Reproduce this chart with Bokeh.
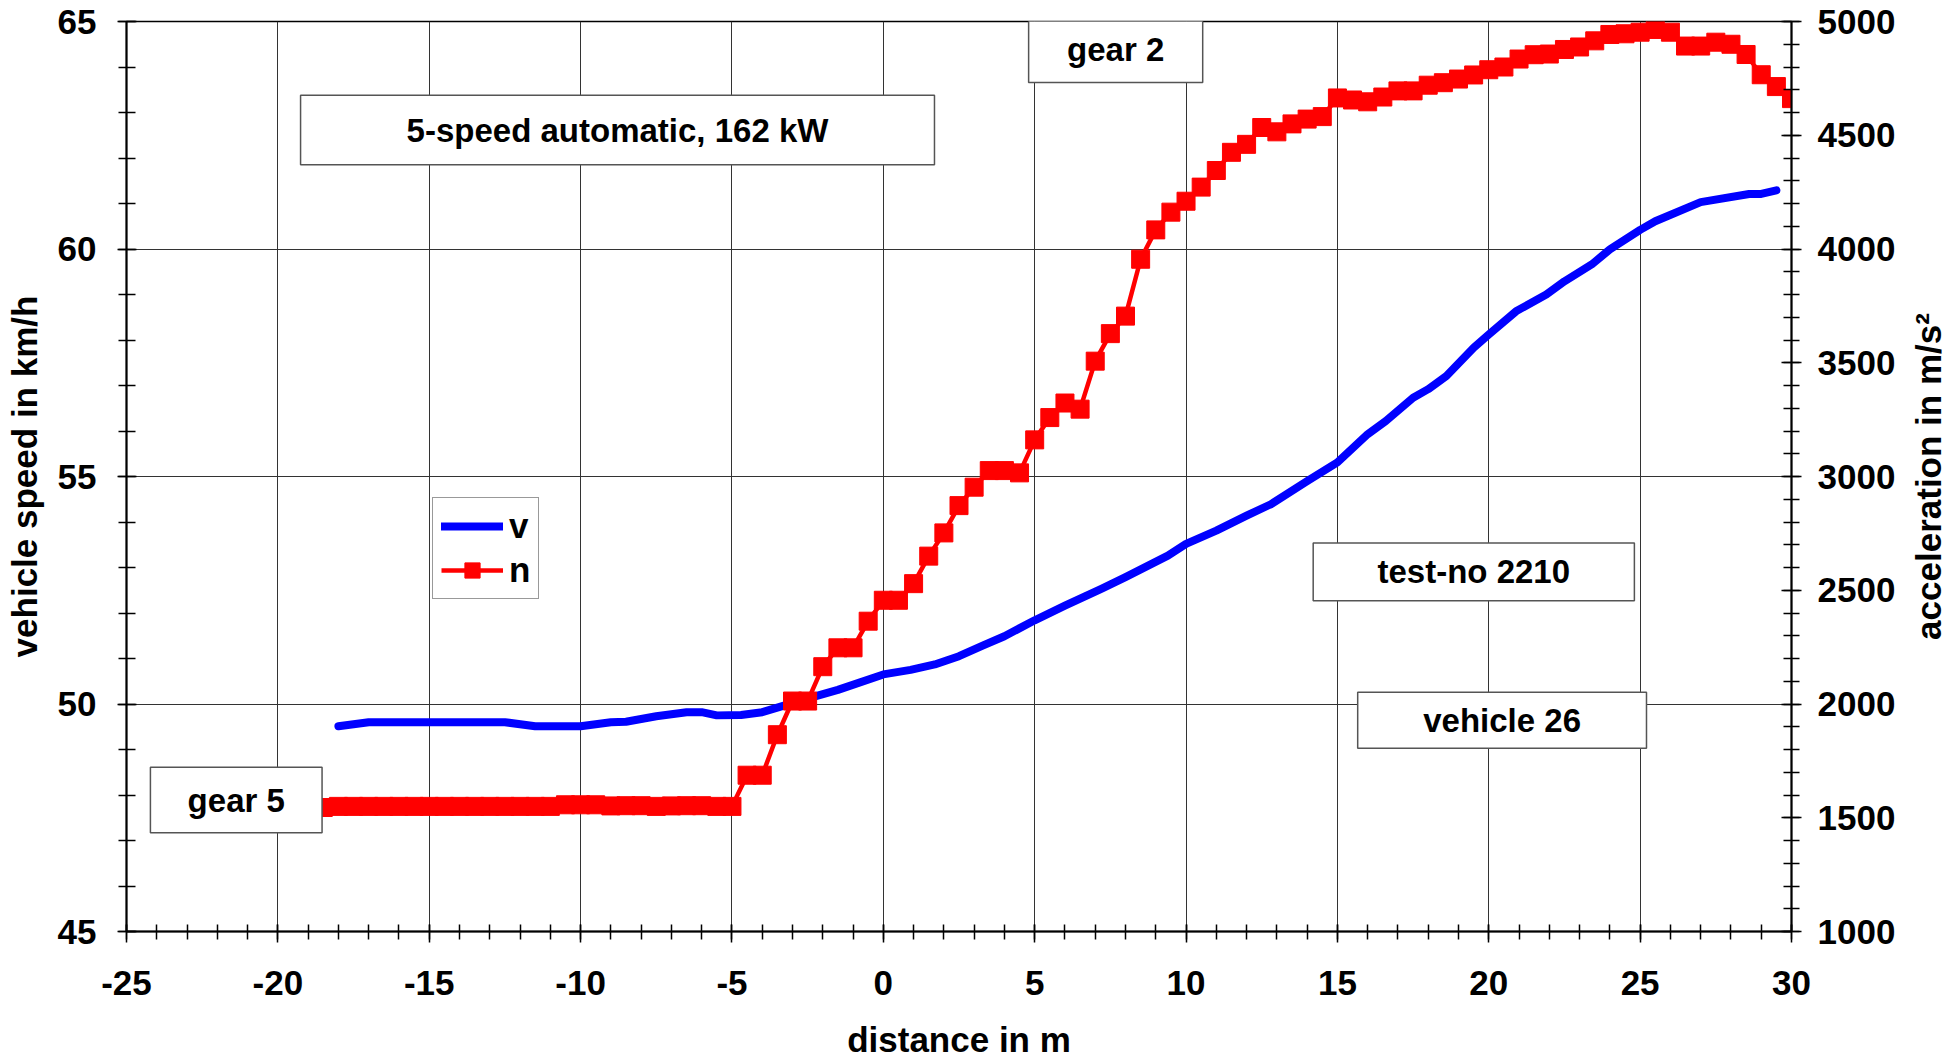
import math
from bokeh.plotting import figure
from bokeh.layouts import row
from bokeh.models import (Range1d, LinearAxis, SingleIntervalTicker, BoxAnnotation,
                          Label, Legend, LegendItem, PrintfTickFormatter)
from bokeh.embed import file_html
from bokeh.resources import INLINE

# ---------------- data ----------------
# vehicle speed v (km/h) vs distance (m)
dist_v = [-18, -17, -15, -12.5, -11.5, -10, -9, -8.5, -7.5, -6.5, -6, -5.5, -4.7, -4,
          -3.2, -2.4, -1.5, 0, 0.9, 1.7, 2.5, 3.3, 4, 5, 6, 7.2, 8, 9.4, 10, 11, 12,
          12.8, 14, 15, 16, 16.6, 17.5, 18, 18.6, 19.5, 20, 20.9, 21.9, 22.5, 23.4,
          24, 25, 25.5, 27, 28.6, 29, 29.5]
speed_v = [49.51, 49.6, 49.6, 49.6, 49.51, 49.51, 49.6, 49.61, 49.73, 49.82, 49.82,
           49.75, 49.76, 49.82, 49.98, 50.14, 50.31, 50.65, 50.75, 50.87, 51.05, 51.29,
           51.49, 51.84, 52.16, 52.53, 52.79, 53.26, 53.52, 53.81, 54.14, 54.39, 54.9,
           55.31, 55.93, 56.22, 56.73, 56.92, 57.21, 57.83, 58.12, 58.63, 59.0, 59.29,
           59.66, 59.99, 60.42, 60.61, 61.03, 61.21, 61.21, 61.29]

# engine speed n vs distance (m)
dist_n = [-18.5, -18, -17.5, -17, -16.5, -16, -15.5, -15, -14.5, -14, -13.5, -13,
          -12.5, -12, -11.5, -11, -10.5, -10, -9.5, -9, -8.5, -8, -7.5, -7, -6.5, -6,
          -5.5, -5, -4.5, -4, -3.5, -3, -2.5, -2, -1.5, -1, -0.5, 0, 0.5, 1, 1.5, 2,
          2.5, 3, 3.5, 4, 4.5, 5, 5.5, 6, 6.5, 7, 7.5, 8, 8.5, 9, 9.5, 10, 10.5, 11,
          11.5, 12, 12.5, 13, 13.5, 14, 14.5, 15, 15.5, 16, 16.5, 17, 17.5, 18, 18.5,
          19, 19.5, 20, 20.5, 21, 21.5, 22, 22.5, 23, 23.5, 24, 24.5, 25, 25.5, 26,
          26.5, 27, 27.5, 28, 28.5, 29, 29.5, 30]
rpm_n = [1545, 1550, 1550, 1550, 1550, 1550, 1550, 1550, 1550, 1550, 1550, 1550,
         1550, 1550, 1550, 1550, 1557, 1557, 1557, 1552, 1553, 1553, 1550, 1552, 1553,
         1553, 1550, 1550, 1687, 1687, 1865, 2013, 2013, 2164, 2247, 2247, 2364, 2456,
         2456, 2529, 2650, 2752, 2872, 2953, 3026, 3026, 3016, 3161, 3259, 3323, 3296,
         3507, 3628, 3705, 3955, 4084, 4162, 4210, 4272, 4345, 4425, 4460, 4534, 4515,
         4550, 4571, 4582, 4664, 4655, 4647, 4668, 4695, 4695, 4720, 4731, 4747, 4765,
         4788, 4800, 4835, 4854, 4857, 4877, 4888, 4915, 4943, 4946, 4953, 4965, 4953,
         4892, 4892, 4909, 4900, 4855, 4766, 4714, 4661]

x_label = "distance in m"
y_label = "vehicle speed in km/h"
y2_label = "acceleration in m/s\u00b2"
series_names = ["v", "n"]

FONT = "Liberation Sans"
H = 1061
TOP, BOTTOM = 21, 129

# ---------------- main figure ----------------
p = figure(width=1904, height=H, x_range=Range1d(-25, 30), y_range=Range1d(45, 65),
           output_backend="svg", toolbar_location=None,
           min_border_left=126, min_border_right=113, min_border_top=TOP,
           min_border_bottom=BOTTOM)
p.background_fill_color = "white"
p.border_fill_color = "white"
p.outline_line_color = "black"
p.outline_line_width = 1.5

p.extra_y_ranges = {"n": Range1d(1000, 5000)}

xt = SingleIntervalTicker(interval=5, num_minor_ticks=5)
yt = SingleIntervalTicker(interval=5, num_minor_ticks=5)
y2t = SingleIntervalTicker(interval=500, num_minor_ticks=5)
p.xaxis.ticker = xt
p.xgrid.ticker = xt
p.yaxis.ticker = yt
p.ygrid.ticker = yt

for g in (p.xgrid, p.ygrid):
    g.grid_line_color = "#333333"
    g.grid_line_width = 1

def style_axis(ax, tin, tout, minin, minout):
    ax.formatter = PrintfTickFormatter(format="%d")
    ax.axis_line_color = "black"
    ax.axis_line_width = 2
    ax.major_tick_line_color = "black"
    ax.major_tick_line_width = 1.5
    ax.minor_tick_line_color = "black"
    ax.minor_tick_line_width = 1.5
    ax.major_tick_in = tin
    ax.major_tick_out = tout
    ax.minor_tick_in = minin
    ax.minor_tick_out = minout
    ax.major_label_text_font = FONT
    ax.major_label_text_font_style = "bold"
    ax.major_label_text_font_size = "35px"
    ax.major_label_text_color = "black"
    ax.axis_label_text_font = FONT
    ax.axis_label_text_font_style = "bold"
    ax.axis_label_text_font_size = "35px"
    ax.axis_label_text_color = "black"

style_axis(p.xaxis[0], 7, 11, 7, 8)
p.xaxis.axis_label = x_label
p.xaxis.major_label_standoff = 28
p.xaxis.axis_label_standoff = 22

style_axis(p.yaxis[0], 10, 9, 9, 8)
p.yaxis.axis_label = y_label
p.yaxis.major_label_standoff = 21
p.yaxis.axis_label_standoff = 11

y2 = LinearAxis(y_range_name="n", ticker=y2t)
style_axis(y2, 10, 10, 8, 8)
y2.major_label_standoff = 16
p.add_layout(y2, "right")

# ---------------- series ----------------
r_v = p.line(dist_v, speed_v, line_color="#0000FF", line_width=8, line_cap="round",
             line_join="round")
r_nl = p.line(dist_n, rpm_n, y_range_name="n", line_color="#FF0000", line_width=4.5)
r_nm = p.scatter(dist_n, rpm_n, y_range_name="n", marker="square", size=18,
                 fill_color="#FF0000", line_color="#FF0000")

legend = Legend(items=[LegendItem(label=series_names[0], renderers=[r_v]),
                       LegendItem(label=series_names[1], renderers=[r_nl, r_nm])],
                location=(306, 332))
legend.label_text_font = FONT
legend.label_text_font_style = "bold"
legend.label_text_font_size = "35px"
legend.label_text_color = "black"
legend.border_line_color = "#333333"
legend.border_line_width = 1.5
legend.background_fill_alpha = 1
legend.glyph_width = 62
legend.glyph_height = 38
legend.label_standoff = 6
legend.spacing = 4
legend.padding = 8
legend.margin = 0
p.add_layout(legend)

# ---------------- annotation boxes ----------------
boxes = [
    ("5-speed automatic, 162 kW", -19.25, 1.69, 61.85, 63.38),
    ("gear 2", 4.80, 10.55, 63.66, 65.11),
    ("test-no 2210", 14.2, 24.81, 52.27, 53.54),
    ("vehicle 26", 15.67, 25.21, 49.03, 50.26),
    ("gear 5", -24.21, -18.54, 47.17, 48.61),
]
for txt, l, r, b, t in boxes:
    p.add_layout(BoxAnnotation(left=l, right=r, bottom=b, top=t, fill_color="white",
                               fill_alpha=1, line_color="#555555", line_width=1.5,
                               line_alpha=1))
    p.add_layout(Label(x=(l + r) / 2, y=(b + t) / 2, text=txt, text_align="center",
                       text_baseline="middle", text_font=FONT,
                       text_font_style="bold", text_font_size="33px",
                       text_color="black"))

# ---------------- right-hand axis title (reads bottom-to-top) ----------------
p2 = figure(width=48, height=H, x_range=Range1d(0, 1), y_range=Range1d(0, 1),
            output_backend="svg", toolbar_location=None, x_axis_type=None,
            y_axis_type=None, min_border_left=0, min_border_right=0,
            min_border_top=TOP, min_border_bottom=BOTTOM)
p2.outline_line_color = None
p2.grid.visible = False
p2.background_fill_color = "white"
p2.border_fill_color = "white"
p2.add_layout(Label(x=0.5, y=0.5, text=y2_label, angle=math.pi / 2,
                    text_align="center", text_baseline="middle", text_font=FONT,
                    text_font_style="bold", text_font_size="35px",
                    text_color="black"))

layout = row(p, p2, spacing=0)
open("out.html", "w").write(file_html(layout, INLINE))
